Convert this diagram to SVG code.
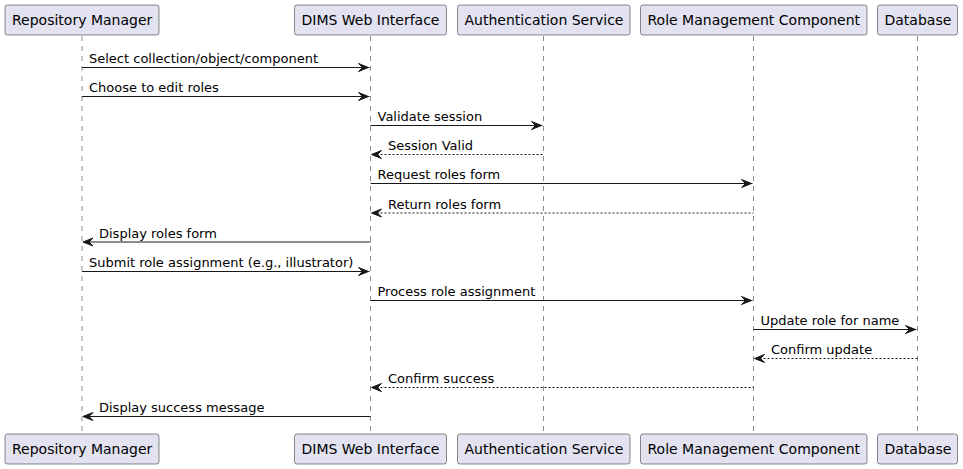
<svg xmlns="http://www.w3.org/2000/svg" width="963" height="469" viewBox="0 0 963 469">
<defs>
<style>
.box{fill:#E2E2F0;stroke:#181818;stroke-width:0.5}
.pt{font-family:"DejaVu Sans",sans-serif;font-size:14px;fill:#000}
.mt{font-family:"DejaVu Sans",sans-serif;font-size:13px;fill:#000}
.life{stroke:#181818;stroke-width:0.5;stroke-dasharray:5,5;fill:none}
.msg{stroke:#181818;stroke-width:1;fill:none}
.ret{stroke:#181818;stroke-width:1;fill:none;stroke-dasharray:2,2}
.ah{fill:#181818;stroke:#181818;stroke-width:1}
</style>
</defs>
<rect width="963" height="469" fill="#FFFFFF"/>
<g id="lifelines">
<line class="life" x1="82" y1="36" x2="82" y2="434"/>
<line class="life" x1="370.5" y1="36" x2="370.5" y2="434"/>
<line class="life" x1="543.5" y1="36" x2="543.5" y2="434"/>
<line class="life" x1="753.5" y1="36" x2="753.5" y2="434"/>
<line class="life" x1="917.5" y1="36" x2="917.5" y2="434"/>
</g>
<g id="p-repo">
<rect class="box" x="5" y="5" width="154" height="30" rx="2.5"/>
<text class="pt" x="12" y="25">Repository Manager</text>
<rect class="box" x="5" y="434" width="154" height="30" rx="2.5"/>
<text class="pt" x="12" y="454">Repository Manager</text>
</g>
<g id="p-dims">
<rect class="box" x="294.5" y="5" width="152" height="30" rx="2.5"/>
<text class="pt" x="301.5" y="25">DIMS Web Interface</text>
<rect class="box" x="294.5" y="434" width="152" height="30" rx="2.5"/>
<text class="pt" x="301.5" y="454">DIMS Web Interface</text>
</g>
<g id="p-auth">
<rect class="box" x="457.5" y="5" width="172.5" height="30" rx="2.5"/>
<text class="pt" x="464.5" y="25">Authentication Service</text>
<rect class="box" x="457.5" y="434" width="172.5" height="30" rx="2.5"/>
<text class="pt" x="464.5" y="454">Authentication Service</text>
</g>
<g id="p-role">
<rect class="box" x="640.5" y="5" width="226.5" height="30" rx="2.5"/>
<text class="pt" x="647.5" y="25">Role Management Component</text>
<rect class="box" x="640.5" y="434" width="226.5" height="30" rx="2.5"/>
<text class="pt" x="647.5" y="454">Role Management Component</text>
</g>
<g id="p-db">
<rect class="box" x="877.5" y="5" width="80" height="30" rx="2.5"/>
<text class="pt" x="884.5" y="25">Database</text>
<rect class="box" x="877.5" y="434" width="80" height="30" rx="2.5"/>
<text class="pt" x="884.5" y="454">Database</text>
</g>
<g id="connectors">
<!-- 1 -->
<line class="msg" x1="82" y1="67.5" x2="369.5" y2="67.5"/>
<polygon class="ah" points="358.5,63.5 368.5,67.5 358.5,71.5 362.5,67.5"/>
<text class="mt" x="89" y="63">Select collection/object/component</text>
<!-- 2 -->
<line class="msg" x1="82" y1="96.5" x2="369.5" y2="96.5"/>
<polygon class="ah" points="358.5,92.5 368.5,96.5 358.5,100.5 362.5,96.5"/>
<text class="mt" x="89" y="92">Choose to edit roles</text>
<!-- 3 -->
<line class="msg" x1="370.5" y1="125.5" x2="542.5" y2="125.5"/>
<polygon class="ah" points="531.5,121.5 541.5,125.5 531.5,129.5 535.5,125.5"/>
<text class="mt" x="377.5" y="121">Validate session</text>
<!-- 4 -->
<line class="ret" x1="372.5" y1="154.5" x2="543.5" y2="154.5"/>
<polygon class="ah" points="381.5,150.5 371.5,154.5 381.5,158.5 377.5,154.5"/>
<text class="mt" x="388" y="150">Session Valid</text>
<!-- 5 -->
<line class="msg" x1="370.5" y1="183.5" x2="752.5" y2="183.5"/>
<polygon class="ah" points="741.5,179.5 751.5,183.5 741.5,187.5 745.5,183.5"/>
<text class="mt" x="377.5" y="179">Request roles form</text>
<!-- 6 -->
<line class="ret" x1="372.5" y1="213" x2="753.5" y2="213"/>
<polygon class="ah" points="381.5,209 371.5,213 381.5,217 377.5,213"/>
<text class="mt" x="388" y="208.5">Return roles form</text>
<!-- 7 -->
<line class="msg" x1="83" y1="242" x2="370.5" y2="242"/>
<polygon class="ah" points="93,238 83,242 93,246 89,242"/>
<text class="mt" x="99" y="237.5">Display roles form</text>
<!-- 8 -->
<line class="msg" x1="82" y1="271.5" x2="369.5" y2="271.5"/>
<polygon class="ah" points="358.5,267.5 368.5,271.5 358.5,275.5 362.5,271.5"/>
<text class="mt" x="89" y="267">Submit role assignment (e.g., illustrator)</text>
<!-- 9 -->
<line class="msg" x1="370.5" y1="300.5" x2="752.5" y2="300.5"/>
<polygon class="ah" points="741.5,296.5 751.5,300.5 741.5,304.5 745.5,300.5"/>
<text class="mt" x="377.5" y="296">Process role assignment</text>
<!-- 10 -->
<line class="msg" x1="753.5" y1="329.5" x2="916.5" y2="329.5"/>
<polygon class="ah" points="905.5,325.5 915.5,329.5 905.5,333.5 909.5,329.5"/>
<text class="mt" x="760.5" y="325">Update role for name</text>
<!-- 11 -->
<line class="ret" x1="755.5" y1="358.5" x2="917.5" y2="358.5"/>
<polygon class="ah" points="764.5,354.5 754.5,358.5 764.5,362.5 760.5,358.5"/>
<text class="mt" x="771" y="354">Confirm update</text>
<!-- 12 -->
<line class="ret" x1="372.5" y1="387.5" x2="753.5" y2="387.5"/>
<polygon class="ah" points="381.5,383.5 371.5,387.5 381.5,391.5 377.5,387.5"/>
<text class="mt" x="388" y="383">Confirm success</text>
<!-- 13 -->
<line class="msg" x1="83" y1="416.5" x2="370.5" y2="416.5"/>
<polygon class="ah" points="93,412.5 83,416.5 93,420.5 89,416.5"/>
<text class="mt" x="99" y="412">Display success message</text>
</g>
</svg>
